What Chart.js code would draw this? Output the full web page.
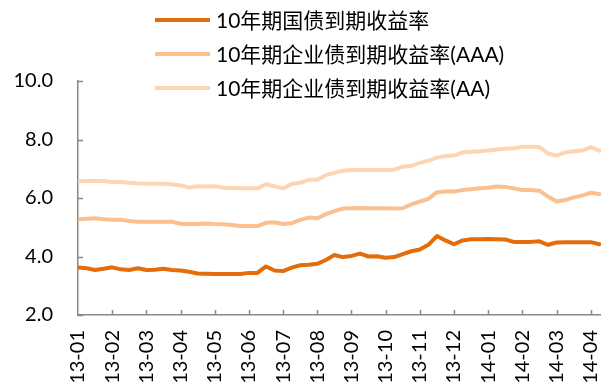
<!DOCTYPE html>
<html>
<head>
<meta charset="utf-8">
<script src="https://cdn.jsdelivr.net/npm/chart.js@4/dist/chart.umd.min.js"></script>
<style>
  html, body { margin: 0; padding: 0; background: #ffffff; }
  #wrap { width: 601px; height: 382px; }
</style>
</head>
<body>
<div id="wrap"><canvas id="c" width="601" height="382"></canvas></div>
<script>
// Month labels for the horizontal axis (one tick per month start)
const monthLabels = ['13-01','13-02','13-03','13-04','13-05','13-06','13-07','13-08',
  '13-09','13-10','13-11','13-12','14-01','14-02','14-03','14-04'];

// Sampling positions, in months since 2013-01 (about weekly)
const monthIndex = [0,0.25,0.5,0.75,1,1.25,1.5,1.75,2,2.25,2.5,2.75,3,3.25,3.5,3.75,
  4,4.25,4.5,4.75,5,5.25,5.5,5.75,6,6.25,6.5,6.75,7,7.25,7.5,7.75,
  8,8.25,8.5,8.75,9,9.25,9.5,9.75,10,10.25,10.5,10.75,11,11.25,11.5,11.75,
  12,12.25,12.5,12.75,13,13.25,13.5,13.75,14,14.25,14.5,14.75,15,15.25];

// 10-year treasury yield (%)
const treasury = [3.62,3.60,3.54,3.58,3.63,3.56,3.54,3.60,3.54,3.55,3.58,3.54,3.52,3.48,3.42,3.41,
  3.40,3.40,3.40,3.40,3.44,3.44,3.66,3.52,3.50,3.62,3.70,3.72,3.75,3.88,4.05,3.98,
  4.02,4.10,4.00,4.01,3.96,3.98,4.08,4.18,4.24,4.40,4.70,4.55,4.42,4.55,4.59,4.59,
  4.60,4.59,4.58,4.50,4.50,4.50,4.52,4.40,4.48,4.49,4.49,4.49,4.49,4.42];

// 10-year AAA corporate bond yield (%)
const corpAAA = [5.27,5.29,5.31,5.27,5.26,5.26,5.21,5.19,5.19,5.19,5.19,5.19,5.12,5.11,5.11,5.13,
  5.11,5.10,5.08,5.04,5.04,5.04,5.15,5.17,5.11,5.14,5.25,5.33,5.31,5.45,5.55,5.64,
  5.65,5.66,5.65,5.65,5.65,5.64,5.65,5.78,5.88,5.97,6.20,6.22,6.22,6.27,6.30,6.33,
  6.35,6.39,6.38,6.33,6.27,6.27,6.25,6.05,5.88,5.93,6.02,6.08,6.18,6.14];

// 10-year AA corporate bond yield (%)
const corpAA = [6.57,6.58,6.59,6.58,6.55,6.55,6.52,6.50,6.49,6.49,6.49,6.47,6.43,6.36,6.40,6.39,
  6.40,6.35,6.34,6.33,6.33,6.33,6.47,6.40,6.33,6.48,6.52,6.62,6.62,6.78,6.86,6.93,
  6.96,6.96,6.96,6.96,6.96,6.97,7.07,7.10,7.20,7.28,7.38,7.44,7.45,7.56,7.58,7.60,
  7.62,7.66,7.68,7.70,7.75,7.75,7.74,7.52,7.45,7.56,7.60,7.62,7.74,7.62];

const seriesNames = ['10年期国债到期收益率', '10年期企业债到期收益率(AAA)', '10年期企业债到期收益率(AA)'];
const yTicks = [2, 4, 6, 8, 10];

const toPoints = vals => vals.map((v, i) => ({ x: monthIndex[i], y: v }));

const axisColor = '#898989';
const latinFont = 'Lato, "Noto Sans CJK SC", sans-serif';

// Short tick marks drawn inward from both axes
const innerTicks = {
  id: 'innerTicks',
  afterDatasetsDraw(chart) {
    const { ctx, chartArea, scales } = chart;
    ctx.save();
    ctx.strokeStyle = axisColor;
    ctx.lineWidth = 1.5;
    ctx.beginPath();
    scales.y.ticks.forEach((t, i) => {
      const py = Math.round(scales.y.getPixelForTick(i)) + 0.5;
      ctx.moveTo(chartArea.left, py);
      ctx.lineTo(chartArea.left + 5, py);
    });
    scales.x.ticks.forEach((t, i) => {
      if (i === 0) return;
      const px = Math.round(scales.x.getPixelForTick(i)) + 0.5;
      ctx.moveTo(px, chartArea.bottom);
      ctx.lineTo(px, chartArea.bottom - 5);
    });
    ctx.stroke();
    ctx.restore();
  }
};

// Legend stacked in one column above the plot
const stackedLegend = {
  id: 'stackedLegend',
  afterDraw(chart, args, opts) {
    const { ctx } = chart;
    ctx.save();
    chart.data.datasets.forEach((ds, i) => {
      const y = opts.top + i * opts.rowGap;
      ctx.strokeStyle = ds.borderColor;
      ctx.lineWidth = 4;
      ctx.lineCap = 'butt';
      ctx.beginPath();
      ctx.moveTo(opts.left, y);
      ctx.lineTo(opts.left + opts.lineLength, y);
      ctx.stroke();
      ctx.fillStyle = '#000000';
      ctx.font = opts.font;
      ctx.textBaseline = 'middle';
      ctx.textAlign = 'left';
      ctx.fillText(ds.label, opts.left + opts.lineLength + opts.gap, y + 1);
    });
    ctx.restore();
  }
};

new Chart(document.getElementById('c'), {
  type: 'line',
  data: {
    datasets: [
      { label: seriesNames[0], data: toPoints(treasury), borderColor: '#E46C0A' },
      { label: seriesNames[1], data: toPoints(corpAAA), borderColor: '#FAC090' },
      { label: seriesNames[2], data: toPoints(corpAA), borderColor: '#FCD5B5' }
    ]
  },
  options: {
    responsive: false,
    animation: false,
    devicePixelRatio: 1,
    layout: { padding: { top: 81, right: 0, left: 0, bottom: 0 } },
    elements: {
      line: { borderWidth: 4, tension: 0, borderJoinStyle: 'round', borderCapStyle: 'round' },
      point: { radius: 0, hoverRadius: 0 }
    },
    plugins: {
      legend: { display: false },
      tooltip: { enabled: false },
      stackedLegend: {
        left: 155, lineLength: 55, gap: 6, top: 20, rowGap: 34,
        font: '21px ' + latinFont
      }
    },
    scales: {
      x: {
        type: 'linear',
        min: 0,
        max: 15.3,
        afterBuildTicks: s => { s.ticks = monthLabels.map((_, i) => ({ value: i })); },
        afterFit: s => { s.height = 67; s.paddingLeft = 0; s.paddingRight = 0; },
        grid: { display: false, drawTicks: false },
        border: { display: true, color: axisColor, width: 1.5 },
        ticks: {
          autoSkip: false,
          minRotation: 90,
          maxRotation: 90,
          padding: 15,
          color: '#000000',
          font: { family: latinFont, size: 20 },
          callback: v => monthLabels[v] ?? ''
        }
      },
      y: {
        min: 2,
        max: 10,
        afterBuildTicks: s => { s.ticks = yTicks.map(v => ({ value: v })); },
        afterFit: s => { s.width = 78; },
        grid: { display: false, drawTicks: false },
        border: { display: true, color: axisColor, width: 1.5 },
        ticks: {
          padding: 25,
          color: '#000000',
          font: { family: latinFont, size: 20 },
          callback: v => v.toFixed(1)
        }
      }
    }
  },
  plugins: [innerTicks, stackedLegend]
});
</script>
</body>
</html>
